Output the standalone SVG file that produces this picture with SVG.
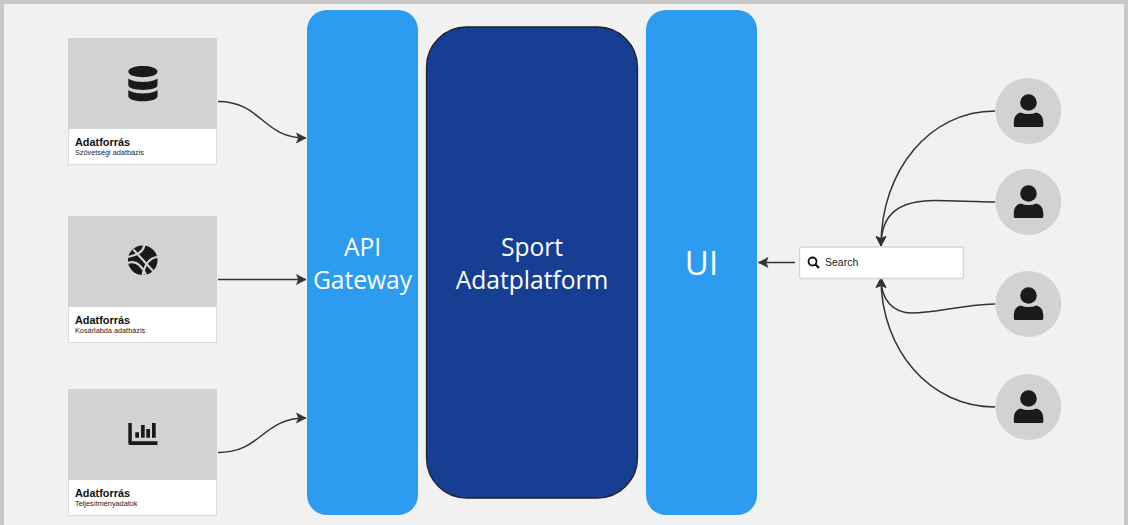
<svg xmlns="http://www.w3.org/2000/svg" width="1128" height="525" viewBox="0 0 1128 525">
<style>
text{font-family:"Liberation Sans",Arial,sans-serif}
.card{fill:#fff;stroke:#dcdcdc;stroke-width:1}
.top{fill:#d2d2d2}
.t{font-size:10.9px;font-weight:700;fill:#111}
.s{font-size:7.3px;fill:#222}
.big{font-family:"Open Sans",sans-serif;font-size:24.600px;fill:#fff;text-anchor:middle}
.ic{fill:#1a1a1a}
.line{fill:none;stroke:#333;stroke-width:1.500;marker-end:url(#a)}
.circle{fill:#d2d2d2}
.blue{fill:#2d9bf0}
</style>
<defs>
<marker id="a" markerUnits="userSpaceOnUse" markerWidth="12" markerHeight="13" refX="10" refY="6" orient="auto">
<path d="M0.500 1L10 6L0.500 11L2.500 6Z" fill="#333" stroke="#333" stroke-width="0.600"/>
</marker>
<symbol id="user" viewBox="0 0 30 34" overflow="visible">
<circle cx="15" cy="8.500" r="8.300" class="ic"/>
<path class="ic" d="M7 18.500Q15 21.500 23 18.500Q29.500 20 29.800 28V31.500Q29.800 33 28 33H2Q0.300 33 0.300 31.500V28Q0.500 20 7 18.500Z"/>
</symbol>
</defs>
<rect width="1128" height="525" fill="#c9c8c7"/>
<rect x="4" y="4" width="1120" height="521" fill="#f1f1f1"/>
<g id="connectors">
<path class="line" d="M218 101.500C262 101.500 262 138 306 138"/>
<path class="line" d="M218 279.500H306"/>
<path class="line" d="M218 452.500C262 452.500 262 418 306 418"/>
<path class="line" d="M795 262.500H758.500"/>
<path class="line" d="M995 111C930 111 881 170 881 246"/>
<path class="line" d="M995 202C975 202 955 200.500 935 200.500C900 200.500 881 213 881 246"/>
<path class="line" d="M995 304C960 305 935 313 912 313C893 313 881 300 881 278"/>
<path class="line" d="M995 407C930 407 881 350 881 278"/>
</g>
<g id="source-1">
<rect class="card" x="68.500" y="38.500" width="148" height="126"/>
<rect class="top" x="68" y="38" width="149" height="91"/>
<path class="ic" d="M128.300 71.500C128.300 64 157.500 64 157.500 71.500C157.500 79 128.300 79 128.300 71.500ZM128.300 78.500C134 83 152 83 157.500 78.500V85C157.500 91.500 128.300 91.500 128.300 85ZM128.300 90C134 94.500 152 94.500 157.500 90V96C157.500 103 128.300 103 128.300 96Z"/>
<text class="t" x="75" y="145.500">Adatforrás</text>
<text class="s" x="75" y="155">Szövetségi adatbázis</text>
</g>
<g id="source-2">
<rect class="card" x="68.500" y="216.500" width="148" height="126"/>
<rect class="top" x="68" y="216" width="149" height="91"/>
<circle class="ic" cx="142.700" cy="260.300" r="14.800"/>
<g fill="none" stroke="#d2d2d2" stroke-width="2.200">
<path d="M133.300 249.500L153.500 271.500"/>
<path d="M144.500 245Q143 254 128 257"/>
<path d="M157.500 257Q146 258 142.500 275.500"/>
<path d="M127.500 263Q139 259 146 275"/>
</g>
<text class="t" x="75" y="323.500">Adatforrás</text>
<text class="s" x="75" y="332.500">Kosárlabda adatbázis</text>
</g>
<g id="source-3">
<rect class="card" x="68.500" y="389.500" width="148" height="126"/>
<rect class="top" x="68" y="389" width="149" height="91"/>
<path class="ic" d="M128.300 423H131.800V441.300H157.500V445H130Q128.300 445 128.300 443.300ZM135.300 432.300H139V437.800H135.300ZM141 425H144.700V437.800H141ZM146.300 429H150V437.800H146.300ZM152 423H155.700V437.800H152Z"/>
<text class="t" x="75" y="496.500">Adatforrás</text>
<text class="s" x="75" y="505.500">Teljesítményadatok</text>
</g>
<g id="api-gateway">
<rect class="blue" x="307" y="10" width="111" height="505" rx="20"/>
<text class="big" x="362.500" y="256">API</text>
<text class="big" x="362.500" y="289">Gateway</text>
</g>
<g id="sport-adatplatform">
<rect x="426.500" y="27" width="211" height="471" rx="40" fill="#163e93" stroke="#222" stroke-width="1.300"/>
<text class="big" x="532" y="256">Sport</text>
<text class="big" x="532" y="289">Adatplatform</text>
</g>
<g id="ui">
<rect class="blue" x="646" y="10" width="111" height="505" rx="20"/>
<text class="big" x="701.500" y="275" style="font-size:33px">UI</text>
</g>
<g id="search">
<rect x="799.500" y="247" width="164" height="31.500" rx="2" fill="#fff" stroke="#d5d5d5" stroke-width="1.300"/>
<circle cx="812.500" cy="261.500" r="4" fill="none" stroke="#111" stroke-width="1.800"/>
<path d="M815.500 264.500L819 268" stroke="#111" stroke-width="2.200"/>
<text x="825" y="266" font-size="10.500" fill="#222">Search</text>
</g>
<g id="user-1"><circle class="circle" cx="1028.300" cy="111" r="33"/><use href="#user" x="1013.500" y="94" width="30" height="34"/></g>
<g id="user-2"><circle class="circle" cx="1028.300" cy="202" r="33"/><use href="#user" x="1013.500" y="185" width="30" height="34"/></g>
<g id="user-3"><circle class="circle" cx="1028.300" cy="304" r="33"/><use href="#user" x="1013.500" y="287" width="30" height="34"/></g>
<g id="user-4"><circle class="circle" cx="1028.300" cy="407" r="33"/><use href="#user" x="1013.500" y="390" width="30" height="34"/></g>
</svg>
